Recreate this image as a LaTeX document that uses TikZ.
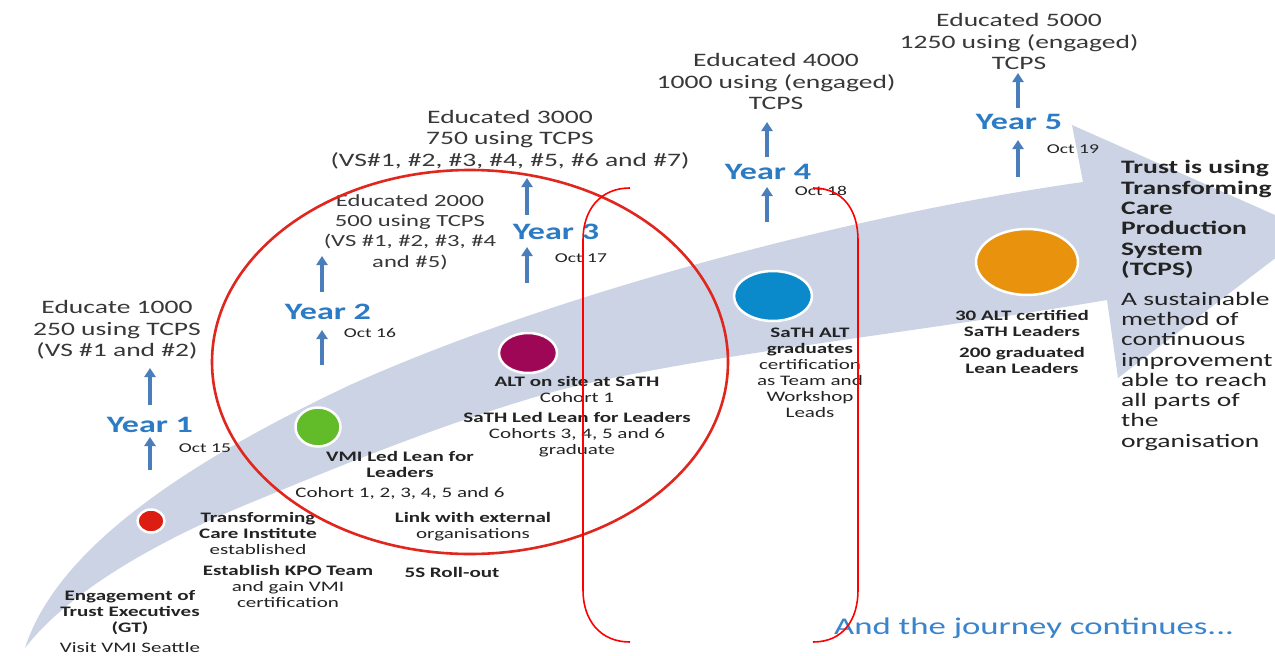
\documentclass[tikz,border=0pt]{standalone}
\usepackage{fontspec}
\setmainfont{Carlito}[FakeStretch=1.45]
\usetikzlibrary{arrows.meta,shapes.geometric}
\definecolor{bandcol}{HTML}{CBD3E4}
\definecolor{textdark}{HTML}{232323}
\definecolor{topgray}{HTML}{383838}
\definecolor{yearblue}{HTML}{2C7BC5}
\definecolor{arrowblue}{HTML}{4A7EBB}
\definecolor{ellred}{HTML}{E0261D}
\definecolor{brred}{HTML}{FF0000}
\definecolor{journeyblue}{HTML}{3A84CC}
\definecolor{dotred}{HTML}{DC1E12}
\definecolor{dotgreen}{HTML}{62BC2A}
\definecolor{dotpurple}{HTML}{9E0656}
\definecolor{dotblue}{HTML}{0A8ACB}
\definecolor{dotorange}{HTML}{E8920E}
\begin{document}
\begin{tikzpicture}[x=1pt,y=-1pt,
  toptext/.style={font=\fontsize{19}{21.5}\selectfont, text=topgray, align=center, inner sep=0},
  year/.style={font=\bfseries\fontsize{23.5}{26}\selectfont, text=yearblue, inner sep=0},
  octlbl/.style={font=\fontsize{13.5}{15}\selectfont, text=textdark, inner sep=0},
  lbl/.style={font=\fontsize{14.5}{16}\selectfont, text=textdark, align=center, inner sep=0},
  righttext/.style={font=\fontsize{19}{20.3}\selectfont, text=textdark, align=left, inner sep=0},
  uparrow/.style={draw=arrowblue, line width=4pt, -{Triangle[width=11pt,length=9pt]}},
  dot/.style={ellipse, draw=white, line width=2.5pt, inner sep=0},
  ellline/.style={draw=ellred, line width=2.6pt},
  bracketline/.style={draw=brred, line width=1.6pt}
]
\useasboundingbox (0,0) rectangle (1275,656);
\clip (0,0) rectangle (1275,656);
\fill[white] (0,0) rectangle (1275,656);

% swoosh band with arrow head
\fill[bandcol] (25,648) .. controls (55,555) and (170,470) .. (350,385)
  .. controls (550,295) and (850,215) .. (1083,182)
  -- (1072,125) -- (1311,231) -- (1118,378) -- (1107,300)
  .. controls (900,335) and (700,355) .. (560,390)
  .. controls (450,420) and (330,470) .. (250,503)
  .. controls (160,540) and (70,590) .. (25,648) -- cycle;

% milestone dots
\node[dot, fill=dotred, minimum width=27pt, minimum height=23pt] (d1) at (151,521) {};
\node[dot, fill=dotgreen, minimum width=45pt, minimum height=39pt] (d2) at (318,427) {};
\node[dot, fill=dotpurple, minimum width=58pt, minimum height=40pt] (d3) at (528,353) {};
\node[dot, fill=dotblue, minimum width=78pt, minimum height=50pt] (d4) at (773,296) {};
\node[dot, fill=dotorange, minimum width=102pt, minimum height=66pt] (d5) at (1027,262) {};

% arrow coordinates
\coordinate (a1s) at (150,470); \coordinate (a1e) at (150,437);
\coordinate (b1s) at (150,405); \coordinate (b1e) at (150,368);
\coordinate (a2s) at (322,365); \coordinate (a2e) at (322,330);
\coordinate (b2s) at (322,292); \coordinate (b2e) at (322,256);
\coordinate (a3s) at (527,283); \coordinate (a3e) at (527,247);
\coordinate (b3s) at (527,215); \coordinate (b3e) at (527,178);
\coordinate (a4s) at (767,222); \coordinate (a4e) at (767,187);
\coordinate (b4s) at (767,157); \coordinate (b4e) at (767,122);
\coordinate (a5s) at (1018,177); \coordinate (a5e) at (1018,140);
\coordinate (b5s) at (1018,108); \coordinate (b5e) at (1018,73);
\foreach \p in {1,2,3,4,5}{
  \draw[uparrow] (a\p s) -- (a\p e);
  \draw[uparrow] (b\p s) -- (b\p e);
}

% year labels
\node[year] (y1) at (150,425) {Year 1};
\node[year] (y2) at (328,312) {Year 2};
\node[year] (y3) at (556,232) {Year 3};
\node[year] (y4) at (768,172) {Year 4};
\node[year] (y5) at (1019,122) {Year 5};

% dates
\node[octlbl] (o1) at (205,448) {Oct 15};
\node[octlbl] (o2) at (370,333) {Oct 16};
\node[octlbl] (o3) at (581,258) {Oct 17};
\node[octlbl] (o4) at (821,191) {Oct 18};
\node[octlbl] (o5) at (1073,149) {Oct 19};

% targets
\node[toptext] (e1) at (117,330) {Educate 1000\\250 using TCPS\\(VS \#1 and \#2)};
\node[toptext, font=\fontsize{17}{20.3}\selectfont] (e2) at (410,232) {Educated 2000\\500 using TCPS\\(VS \#1, \#2, \#3, \#4\\and \#5)};
\node[toptext] (e3) at (510,139.5) {Educated 3000\\750 using TCPS\\(VS\#1, \#2, \#3, \#4, \#5, \#6 and \#7)};
\node[toptext] (e4) at (776,81.5) {Educated 4000\\1000 using (engaged)\\TCPS};
\node[toptext] (e5) at (1019,41.5) {Educated 5000\\1250 using (engaged)\\TCPS};

% milestone labels
\node[lbl] (tci) at (258,533) {\textbf{Transforming}\\\textbf{Care Institute}\\established};
\node[lbl] (kpo) at (288,586) {\textbf{Establish KPO Team}\\and gain VMI\\certification};
\node[lbl] (eng) at (130,622) {\textbf{Engagement of}\\\textbf{Trust Executives}\\\textbf{(GT)}\\[4pt]Visit VMI Seattle};
\node[lbl] (vmi) at (400,475.5) {\textbf{VMI Led Lean for}\\\textbf{Leaders}\\[4pt]Cohort 1, 2, 3, 4, 5 and 6};
\node[lbl] (link) at (473,526.5) {\textbf{Link with external}\\organisations};
\node[lbl] (roll) at (452,572) {\textbf{5S Roll-out}};
\node[lbl] (alt) at (577,416.5) {\textbf{ALT on site at SaTH}\\Cohort 1\\[4pt]\textbf{SaTH Led Lean for Leaders}\\Cohorts 3, 4, 5 and 6\\graduate};
\node[lbl] (sath) at (810,372.5) {\textbf{SaTH ALT}\\\textbf{graduates}\\certification\\as Team and\\Workshop\\Leads};
\node[lbl] (cert) at (1022,342) {\textbf{30 ALT certified}\\\textbf{SaTH Leaders}\\[5pt]\textbf{200 graduated}\\\textbf{Lean Leaders}};

\node[righttext, anchor=west] (trust) at (1121,305.5) {\textbf{Trust is using}\\\textbf{Transforming}\\\textbf{Care}\\\textbf{Production}\\\textbf{System}\\\textbf{(TCPS)}\\[9.5pt]A sustainable\\method of\\continuous\\improvement\\able to reach\\all parts of\\the\\organisation};

\node[font=\fontsize{24}{28}\selectfont, text=journeyblue, inner sep=0] (journey) at (1034,628) {And the journey continues...};

% red annotations
\draw[ellline] (470,362) ellipse [x radius=258pt, y radius=192pt];
\draw[bracketline] (630,188) .. controls (600,188) and (583,210) .. (583,240) -- (583,590) .. controls (583,620) and (600,642) .. (630,642);
\draw[bracketline] (813,188) .. controls (843,188) and (858,210) .. (858,240) -- (858,590) .. controls (858,620) and (843,642) .. (813,642);
\end{tikzpicture}
\end{document}
